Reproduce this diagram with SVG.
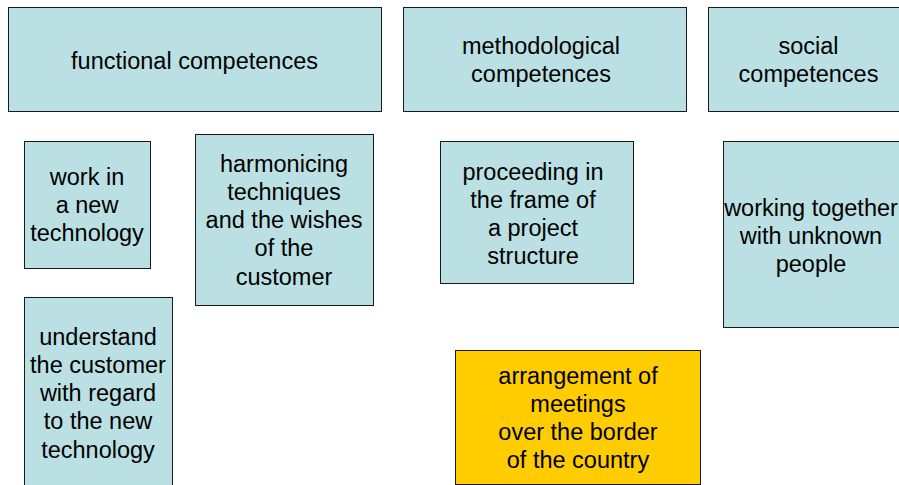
<svg xmlns="http://www.w3.org/2000/svg" width="899" height="485" viewBox="0 0 899 485">
<style>
.b{fill:#BBE0E3;stroke:#1a1a1a;stroke-width:1}
.y{fill:#FFCC00;stroke:#1a1a1a;stroke-width:1}
text{font-family:"Liberation Sans",Arial,sans-serif;font-size:23.5px;fill:#000;text-anchor:middle}
</style>
<rect width="899" height="485" fill="#fff"/>
<g id="functional">
<rect class="b" x="8.5" y="7.5" width="373" height="104"/>
<text x="194.5" y="69">functional competences</text>
</g>
<g id="methodological">
<rect class="b" x="403.5" y="7.5" width="283" height="104"/>
<text x="541" y="54">methodological</text>
<text x="541" y="82">competences</text>
</g>
<g id="social">
<rect class="b" x="708.5" y="7.5" width="200" height="104"/>
<text x="808.5" y="54">social</text>
<text x="808.5" y="82">competences</text>
</g>
<g id="work">
<rect class="b" x="24.5" y="141.5" width="126" height="127"/>
<text x="87" y="185">work in</text>
<text x="87" y="213">a new</text>
<text x="87" y="241">technology</text>
</g>
<g id="harmonicing">
<rect class="b" x="195.5" y="134.5" width="178" height="171"/>
<text x="284" y="172">harmonicing</text>
<text x="284" y="200">techniques</text>
<text x="284" y="228">and the wishes</text>
<text x="284" y="256">of the</text>
<text x="284" y="285">customer</text>
</g>
<g id="proceeding">
<rect class="b" x="440.5" y="141.5" width="193" height="142"/>
<text x="533" y="180">proceeding in</text>
<text x="533" y="208">the frame of</text>
<text x="533" y="236">a project</text>
<text x="533" y="264">structure</text>
</g>
<g id="working">
<rect class="b" x="723.5" y="141.5" width="190" height="186"/>
<text x="811" y="216">working together</text>
<text x="811" y="244">with unknown</text>
<text x="811" y="272">people</text>
</g>
<g id="understand">
<rect class="b" x="24.5" y="297.5" width="148" height="200"/>
<text x="98" y="345">understand</text>
<text x="98" y="373">the customer</text>
<text x="98" y="401">with regard</text>
<text x="98" y="429">to the new</text>
<text x="98" y="458">technology</text>
</g>
<g id="arrangement">
<rect class="y" x="455.5" y="350.5" width="245" height="134"/>
<text x="578" y="384">arrangement of</text>
<text x="578" y="412">meetings</text>
<text x="578" y="440">over the border</text>
<text x="578" y="468">of the country</text>
</g>
<g id="connectors"></g>
</svg>
